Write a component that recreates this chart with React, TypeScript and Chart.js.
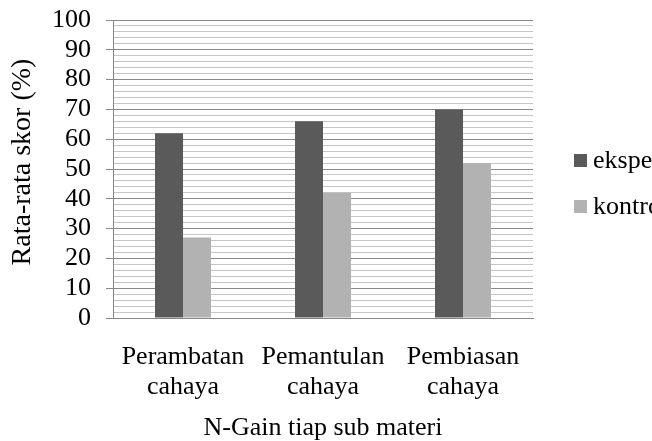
import React, { useEffect, useRef } from "react";
import { Chart, registerables } from "chart.js";

Chart.register(...registerables);

const categories: string[][] = [
  ["Perambatan", "cahaya"],
  ["Pemantulan", "cahaya"],
  ["Pembiasan", "cahaya"],
];
const eksperimen: number[] = [62, 66, 70];
const kontrol: number[] = [27, 42, 52];
const seriesLabels: string[] = ["eksperimen", "kontrol"];
const seriesColors: string[] = ["#5a5a5a", "#b2b2b2"];
const yTitle = "  Rata-rata skor (%)";
const xTitle = "N-Gain tiap sub materi";

const FONT = "'Liberation Serif', 'Times New Roman', serif";

const legendPlugin = {
  id: "sideLegend",
  afterDraw(chart: any) {
    const ctx = chart.ctx;
    const ys = [160.5, 206.5];
    ctx.save();
    chart.data.datasets.forEach((ds: any, i: number) => {
      const cy = ys[i];
      ctx.fillStyle = ds.backgroundColor;
      ctx.fillRect(574, cy - 6.5, 13, 13);
      ctx.fillStyle = "#000";
      ctx.font = `26px ${FONT}`;
      ctx.textBaseline = "middle";
      ctx.textAlign = "left";
      ctx.fillText(ds.label, 593, cy + 1);
    });
    ctx.restore();
  },
};

export default function App() {
  const ref = useRef<HTMLCanvasElement>(null);
  useEffect(() => {
    if (!ref.current) return;
    const chart = new Chart(ref.current, {
      type: "bar",
      data: {
        labels: categories,
        datasets: [
          {
            label: seriesLabels[0],
            data: eksperimen,
            backgroundColor: seriesColors[0],
            borderWidth: 0,
          },
          {
            label: seriesLabels[1],
            data: kontrol,
            backgroundColor: seriesColors[1],
            borderWidth: 0,
          },
        ],
      },
      options: {
        responsive: false,
        animation: false,
        devicePixelRatio: 1,
        layout: { padding: { left: 0, top: 20, right: 119, bottom: 0 } },
        plugins: {
          legend: { display: false },
          tooltip: { enabled: false },
        },
        datasets: {
          bar: { categoryPercentage: 0.4, barPercentage: 1 },
        },
        scales: {
          x: {
            offset: true,
            grid: { display: false, drawTicks: false },
            border: { display: true, color: "#868686", width: 1 },
            ticks: {
              color: "#000",
              font: { family: FONT, size: 26, lineHeight: 1.15 },
              padding: 24,
              maxRotation: 0,
              minRotation: 0,
              autoSkip: false,
            },
            title: {
              display: true,
              text: xTitle,
              color: "#000",
              font: { family: FONT, size: 26, lineHeight: 1.0 },
              padding: { top: 0, bottom: 0 },
            },
            afterFit(scale: any) {
              scale.height = 123;
              scale.paddingLeft = 0;
              scale.paddingRight = 0;
            },
          },
          y: {
            min: 0,
            max: 100,
            ticks: {
              stepSize: 2,
              autoSkip: false,
              color: "#000",
              font: { family: FONT, size: 26 },
              padding: 15,
              callback: (v: any) => (Number(v) % 10 === 0 ? String(v) : ""),
            },
            grid: {
              color: (c: any) =>
                c.tick && c.tick.value % 10 === 0 ? "#8a8a8a" : "#c6c6c6",
              tickColor: (c: any) =>
                c.tick && c.tick.value % 10 === 0 ? "#8a8a8a" : "rgba(0,0,0,0)",
              tickLength: 7,
              lineWidth: 1,
            },
            border: { display: true, color: "#868686", width: 1 },
            title: {
              display: true,
              text: yTitle,
              color: "#000",
              font: { family: FONT, size: 28, lineHeight: 1.2 },
              padding: { top: 6, bottom: 0 },
            },
            afterFit(scale: any) {
              scale.width = 113;
              scale.paddingTop = 0;
              scale.paddingBottom = 0;
            },
          },
        },
      },
      plugins: [legendPlugin],
    });
    return () => chart.destroy();
  }, []);
  return (
    <div style={{ position: "absolute", left: 0, top: 0, width: 652, height: 441, background: "#fff" }}>
      <canvas ref={ref} width={652} height={441} />
    </div>
  );
}
